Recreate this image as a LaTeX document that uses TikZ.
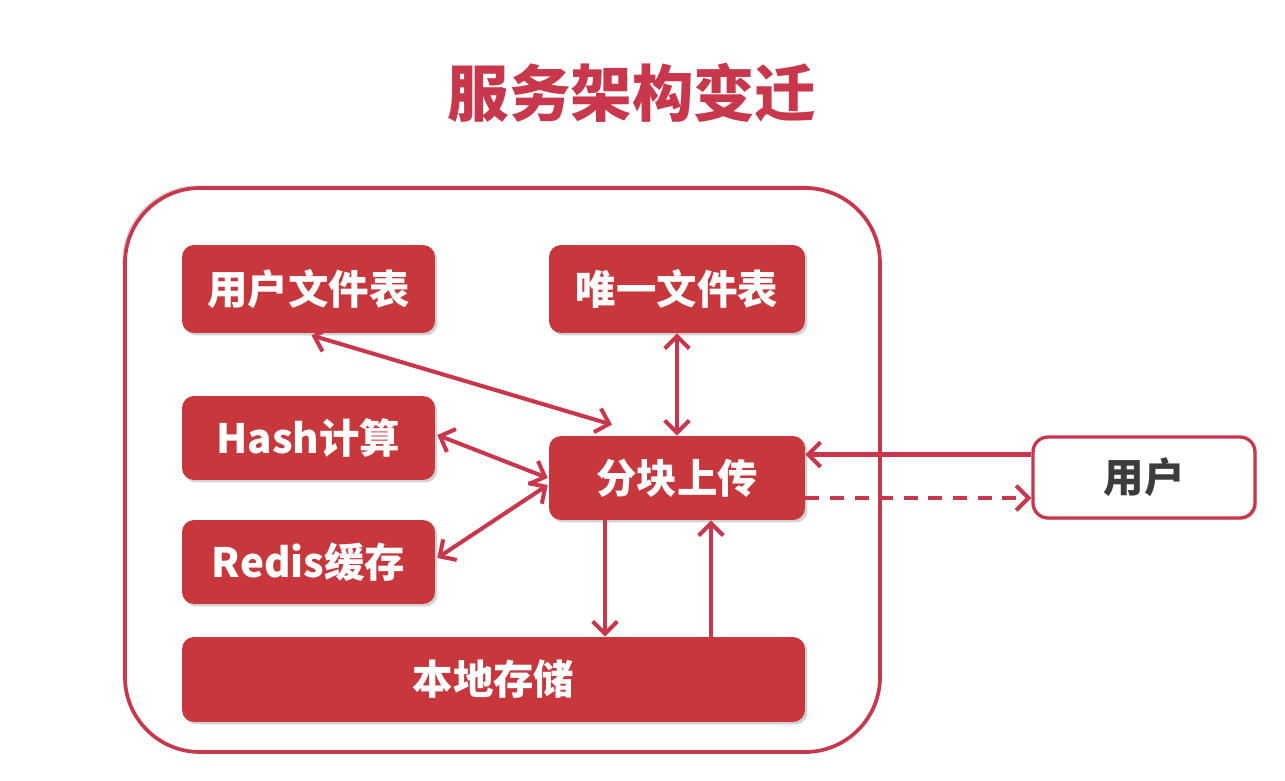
\documentclass[tikz,border=0pt]{standalone}
\usepackage{fontspec}
\setmainfont{Noto Sans CJK SC}
\usetikzlibrary{arrows.meta,shadows,calc}
\definecolor{mred}{RGB}{200,55,60}
\definecolor{tred}{RGB}{200,55,75}
\definecolor{ugray}{RGB}{60,60,60}
\begin{document}
\begin{tikzpicture}[x=0.02cm,y=-0.02cm,
  redbox/.style={draw=none, fill=mred, rounded corners=0.24cm, text=white,
    font=\bfseries\fontsize{23}{27}\selectfont, inner sep=0pt,
    drop shadow={opacity=0.35, shadow xshift=1.4pt, shadow yshift=-1.4pt}},
  userbox/.style={draw=tred, line width=1.9pt, fill=white, rounded corners=0.3cm, text=ugray,
    font=\bfseries\fontsize{23}{27}\selectfont, inner sep=0pt,
    drop shadow={opacity=0.25, shadow xshift=1.2pt, shadow yshift=-1.2pt}},
  conn/.style={draw=tred, line width=2.3pt, arrows={-Straight Barb[length=7pt,width=14pt,line width=2.3pt]}},
  both/.style={conn, arrows={Straight Barb[length=7pt,width=14pt,line width=2.3pt]-Straight Barb[length=7pt,width=14pt,line width=2.3pt]}}
]
\useasboundingbox (0,0) rectangle (1285,781);
% outer container
\draw[draw=tred, line width=2.1pt, fill=white, rounded corners=1.5cm,
  drop shadow={opacity=0.3, shadow xshift=-1.5pt, shadow yshift=1.5pt}]
  (125,188) rectangle (880,752);
% title
\node[text=tred, font=\bfseries\fontsize{35}{40}\selectfont] (title) at (632,93) {服务架构变迁};
% boxes
\node[redbox, minimum width=5.06cm, minimum height=1.76cm] (ufile) at (308.5,289) {用户文件表};
\node[redbox, minimum width=5.12cm, minimum height=1.76cm] (uniq) at (677,289) {唯一文件表};
\node[redbox, minimum width=5.06cm, minimum height=1.68cm] (hash) at (308.5,438) {Hash计算};
\node[redbox, minimum width=5.12cm, minimum height=1.68cm] (chunk) at (677,478) {分块上传};
\node[redbox, minimum width=5.06cm, minimum height=1.68cm] (redis) at (308.5,562) {Redis缓存};
\node[redbox, minimum width=12.46cm, minimum height=1.7cm] (local) at (493.5,679.5) {本地存储};
\node[userbox, minimum width=4.44cm, minimum height=1.62cm] (user) at (1144,477.5) {用户};
% connectors
\coordinate (ct) at ($(chunk.north)+(-65,-11)$);
\draw[both] ($(ufile.south)+(3,2)$) -- (ct);
\draw[both] (uniq.south) -- (chunk.north);
\draw[both] ($(hash.east)+(2,-3)$) -- ($(chunk.west)+(-1,0)$);
\draw[both] ($(redis.east)+(2,-4)$) -- ($(chunk.west)+(-1,7)$);
\coordinate (c1) at ($(chunk.south)+(-72,0)$);
\draw[conn] (c1) -- (c1 |- local.north);
\coordinate (c2) at ($(chunk.south)+(34,0)$);
\draw[conn] (c2 |- local.north) -- (c2);
\coordinate (u1) at ($(user.west)+(0,-23)$);
\draw[conn] (u1) -- (u1 -| chunk.east);
\coordinate (u2) at ($(chunk.east)+(0,20)$);
\draw[conn, dashed, dash pattern=on 8pt off 6pt] (u2) -- (u2 -| user.west);
\end{tikzpicture}
\end{document}
